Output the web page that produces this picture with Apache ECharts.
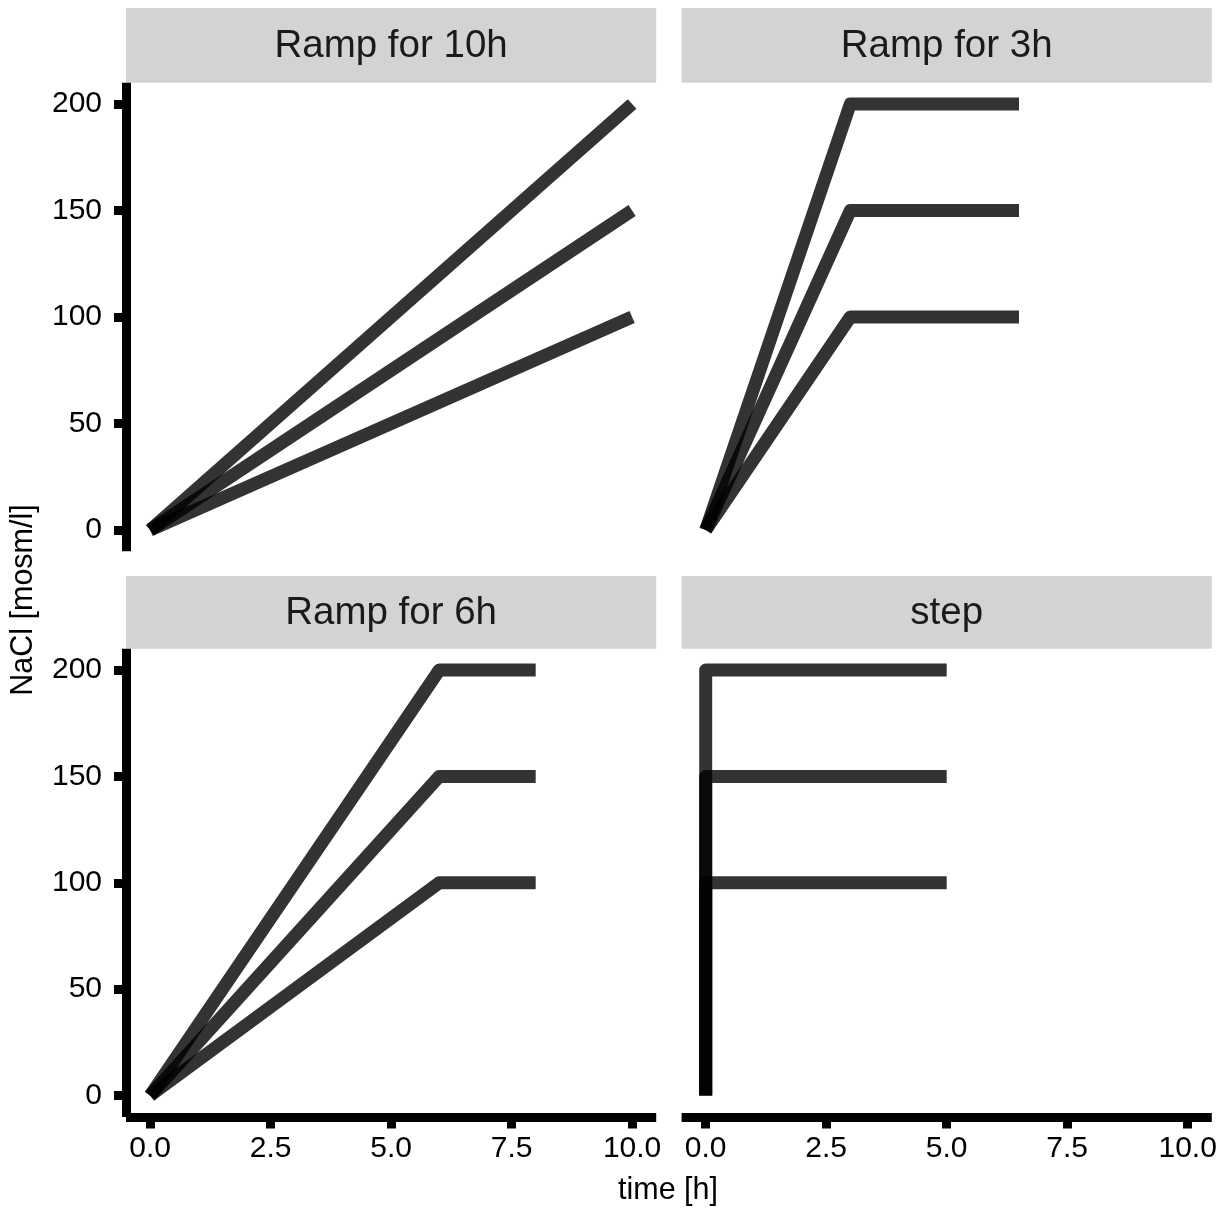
<!DOCTYPE html>
<html>
<head>
<meta charset="utf-8">
<script src="https://cdn.jsdelivr.net/npm/echarts@6/dist/echarts.min.js"></script>
<style>
html,body{margin:0;padding:0;background:#fff;}
#chart{width:1228px;height:1210px;}
</style>
</head>
<body>
<div id="chart"></div>
<script>
// ---- data ----
const panelNames = ['Ramp for 10h', 'Ramp for 3h', 'Ramp for 6h', 'step'];
const rampEnd = [10, 3, 6, 0];       // time at which target is reached [h]
const holdEnd = [10, 6.5, 8, 5];     // last time point [h]
const levels = [100, 150, 200];      // NaCl target levels [mosm/l]
const xTicks = [0, 2.5, 5, 7.5, 10];
const yTicks = [0, 50, 100, 150, 200];

// ---- layout ----
const FONT = '"Liberation Sans", Arial, Helvetica, sans-serif';
const grids = [
  {left: 126, top: 82.7, width: 530.2, height: 468.6},
  {left: 681.6, top: 82.7, width: 530.2, height: 468.6},
  {left: 126, top: 648.7, width: 530.2, height: 468.2},
  {left: 681.6, top: 648.7, width: 530.2, height: 468.2}
];
const showY = [true, false, true, false];
const showX = [false, false, true, true];

const xAxes = grids.map((g, i) => ({
  type: 'value', gridIndex: i, min: -0.5, max: 10.5,
  splitLine: {show: false},
  axisLine: {show: showX[i], onZero: false, lineStyle: {color: '#000', width: 9, cap: 'butt'}},
  axisTick: {show: showX[i], length: 11.5, customValues: xTicks, lineStyle: {color: '#000', width: 9, cap: 'butt'}},
  axisLabel: {show: showX[i], customValues: xTicks, margin: 17, color: '#000', fontSize: 30, fontFamily: FONT,
              formatter: v => v.toFixed(1)}
}));
const yAxes = grids.map((g, i) => ({
  type: 'value', gridIndex: i, min: -10, max: 210,
  splitLine: {show: false},
  axisLine: {show: showY[i], onZero: false, lineStyle: {color: '#000', width: 9, cap: 'butt'}},
  axisTick: {show: showY[i], length: 12, customValues: yTicks, lineStyle: {color: '#000', width: 9, cap: 'butt'}},
  axisLabel: {show: showY[i], customValues: yTicks, margin: 24, color: '#000', fontSize: 30, fontFamily: FONT}
}));

const series = [];
panelNames.forEach((name, i) => {
  levels.forEach(L => {
    const pts = [[0, 0], [rampEnd[i], L]];
    if (holdEnd[i] > rampEnd[i]) pts.push([holdEnd[i], L]);
    series.push({
      type: 'line', name: name + ' ' + L, xAxisIndex: i, yAxisIndex: i,
      data: pts, showSymbol: false, symbol: 'none', animation: false,
      lineStyle: {color: '#000', opacity: 0.8, width: 13, cap: 'butt', join: 'round'},
      emphasis: {disabled: true}
    });
  });
});

const graphic = [];
grids.forEach((g, i) => {
  const stripTop = i < 2 ? 8 : 576;
  const stripH = g.top - stripTop;
  graphic.push({
    type: 'rect', shape: {x: g.left, y: stripTop, width: g.width, height: stripH},
    style: {fill: '#d3d3d3'}, silent: true
  });
  graphic.push({
    type: 'text', x: g.left + g.width / 2, y: stripTop + stripH / 2 + 1,
    style: {text: panelNames[i], fill: '#1a1a1a', font: '38.5px ' + FONT, textAlign: 'center', textVerticalAlign: 'middle'},
    silent: true
  });
});
graphic.push({
  type: 'text', x: 668, y: 1191,
  style: {text: 'time [h]', fill: '#000', font: '30.5px ' + FONT, textAlign: 'center', textVerticalAlign: 'middle'},
  silent: true
});
graphic.push({
  type: 'text', x: 24, y: 600, rotation: Math.PI / 2,
  style: {text: 'NaCl [mosm/l]', fill: '#000', font: '30.5px ' + FONT, textAlign: 'center', textVerticalAlign: 'middle'},
  silent: true
});

const chart = echarts.init(document.getElementById('chart'), null, {renderer: 'canvas'});
chart.setOption({
  backgroundColor: '#fff',
  animation: false,
  grid: grids.map(g => Object.assign({containLabel: false}, g)),
  xAxis: xAxes,
  yAxis: yAxes,
  series: series,
  graphic: graphic
});
</script>
</body>
</html>
